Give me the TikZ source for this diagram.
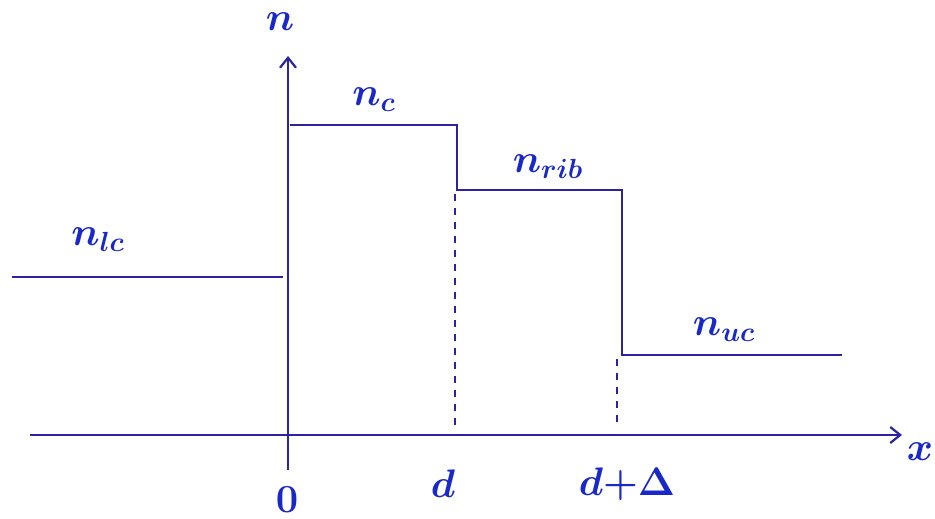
\documentclass[tikz,border=0pt]{standalone}
\usetikzlibrary{arrows.meta}
\definecolor{ink}{RGB}{45,35,160}
\definecolor{txt}{RGB}{25,40,200}
\begin{document}
\begin{tikzpicture}[x=1pt,y=-1pt,
  curve/.style={draw=ink,line width=2.2pt},
  guide/.style={draw=ink,line width=2pt,dash pattern=on 7pt off 7pt},
  axis/.style={draw=ink,line width=2.2pt,-{Straight Barb[length=10pt,width=16pt]}},
  lbl/.style={text=txt,scale=1.6,font=\fontsize{24}{28}\selectfont\boldmath}]
\useasboundingbox[fill=white] (0,0) rectangle (935,519);
% axes
\coordinate (ybot) at (288,470);
\coordinate (ytop) at (288,56);
\coordinate (xl) at (30,435);
\coordinate (xr) at (902,435);
\draw[axis] (ybot) -- (ytop);
\draw[axis] (xl) -- (xr);
% profile
\coordinate (lc0) at (12,277);
\coordinate (lc1) at (283,277);
\coordinate (c0) at (290,125);
\coordinate (c1) at (457,125);
\coordinate (r0) at (457,190);
\coordinate (r1) at (622,190);
\coordinate (u0) at (622,355);
\coordinate (u1) at (842,355);
\draw[curve] (lc0) -- (lc1);
\draw[curve] (c0) -- (c1) -- (r0) -- (r1) -- (u0) -- (u1);
% dashed guides
\coordinate (d0) at (455,194);
\coordinate (d1) at (455,430);
\coordinate (e0) at (617,359);
\coordinate (e1) at (617,425);
\draw[guide] (d0) -- (d1);
\draw[guide] (e0) -- (e1);
% labels
\node[lbl] (n) at (280,22) {$n$};
\node[lbl] (nc) at (374,100) {$n_{c}$};
\node[lbl] (nrib) at (548,167) {$n_{rib}$};
\node[lbl] (nlc) at (98,240) {$n_{lc}$};
\node[lbl] (nuc) at (724,330) {$n_{uc}$};
\node[lbl] (o) at (287,500) {$0$};
\node[lbl] (d) at (443,484) {$d$};
\node[lbl] (ds) at (627,484) {$d{+}\Delta$};
\node[lbl] (x) at (920,452) {$x$};
\end{tikzpicture}
\end{document}
